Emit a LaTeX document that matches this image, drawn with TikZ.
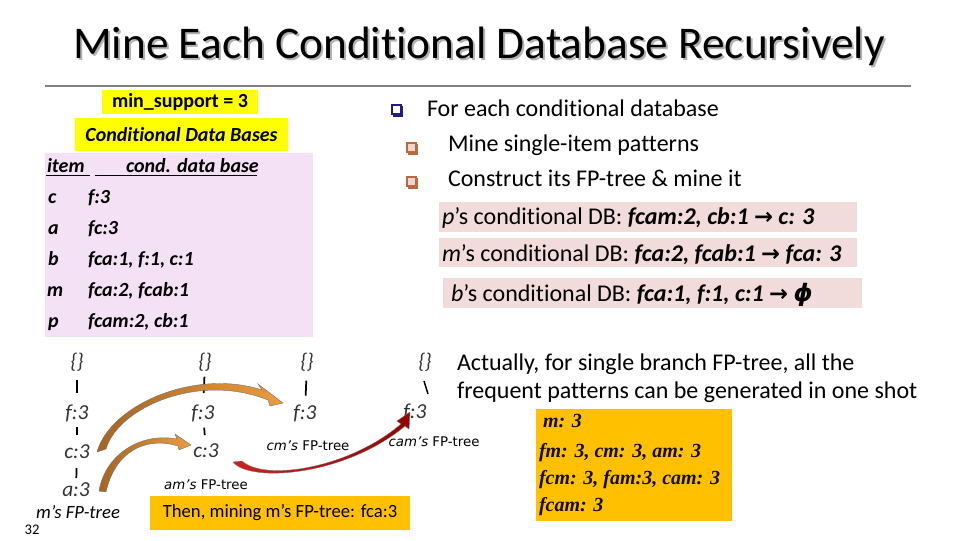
\documentclass[tikz,border=0pt]{standalone}
\usepackage{fontspec}
\setmainfont{Carlito}[Ligatures={NoCommon,NoContextual,NoRare}]
\newfontfamily\dvs{DejaVu Sans}
\newfontfamily\tms{Liberation Serif}
\definecolor{yel}{RGB}{255,255,0}
\definecolor{org}{RGB}{255,192,0}
\definecolor{pinkbox}{RGB}{245,225,245}
\definecolor{stripc}{RGB}{242,220,219}
\definecolor{navyc}{RGB}{30,30,130}
\definecolor{brnc}{RGB}{185,105,65}
\definecolor{brnlight}{RGB}{235,215,205}
\definecolor{arrdark}{RGB}{165,100,35}
\definecolor{arrlight}{RGB}{236,156,62}
\definecolor{reddark}{RGB}{150,0,0}
\definecolor{redlight}{RGB}{215,30,30}
\tikzset{
  txt/.style={anchor=base west, inner sep=0pt, outer sep=0pt},
  cdb/.style={txt, font=\fontsize{15}{18}\selectfont\bfseries\itshape},
  bul/.style={txt, font=\fontsize{18}{22}\selectfont},
  tree/.style={inner sep=0pt, outer sep=0pt, text=black!80, font=\fontsize{16}{18}\selectfont\itshape},
  bar/.style={line width=1.3pt, black},
  ans/.style={txt, font=\fontsize{15}{18}\selectfont\tms\bfseries\itshape, text=black!90!brown},
  blockarrow/.style={draw=black!55, line width=0.3pt},
}
\newcommand{\arr}{{\dvs\bfseries\fontsize{17}{18}\selectfont →}}
\begin{document}
\begin{tikzpicture}[x=0.75pt,y=-0.75pt]
\useasboundingbox (0,0) rectangle (960,540);

% title
\node[anchor=base, text=black!30, font=\fontsize{34}{40}\selectfont] (titleshadow) at (481,60) {Mine Each Conditional Database Recursively};
\node[anchor=base, font=\fontsize{34}{40}\selectfont] (title) at (479,58) {Mine Each Conditional Database Recursively};
\coordinate (ruleL) at (45,86);
\coordinate (ruleR) at (911,86);
\draw[gray, line width=0.8pt] (ruleL) -- (ruleR);

% left: yellow labels and pink table
\node[fill=yel, minimum width=117pt, minimum height=18pt, inner sep=0pt, font=\fontsize{15}{18}\selectfont\bfseries] (minsup) at (180,102) {min\_support = 3};
\node[fill=yel, minimum width=159.75pt, minimum height=24.75pt, inner sep=0pt, font=\fontsize{15}{18}\selectfont\bfseries\itshape] (cdbtitle) at (181.5,134.5) {Conditional Data Bases};
\fill[pinkbox] (45,153) rectangle (313,337);

\node[cdb] (hitem) at (47,172) {item};
\node[cdb] (hcond) at (126,172) {cond. data base};
\draw[line width=0.8pt] (46,175.5) -- (90,175.5);
\draw[line width=0.8pt] (95,175.5) -- (257,175.5);

\node[cdb] (ic) at (48,203) {c};
\node[cdb] (dc) at (88,203) {f:3};
\node[cdb] (ia) at (48,234) {a};
\node[cdb] (da) at (88,234) {fc:3};
\node[cdb] (ib) at (48,265) {b};
\node[cdb] (db) at (88,265) {fca:1, f:1, c:1};
\node[cdb] (im) at (47,296) {m};
\node[cdb] (dm) at (88,296) {fca:2, fcab:1};
\node[cdb] (ip) at (48,327) {p};
\node[cdb] (dp) at (88,327) {fcam:2, cb:1};

% right bullets
\draw[navyc, line width=1pt] (392,105) rectangle (401,114);
\fill[navyc] (392.5,113.5) rectangle (403,116.5);
\fill[navyc] (400.5,105.5) rectangle (403,116.5);
\node[bul] (b1) at (427,116) {For each conditional database};
\foreach \yy/\nm in {143/s1,177/s2}{
  \fill[brnlight] (407,\yy) rectangle (416,\yy+9);
  \draw[brnc, line width=1pt] (407,\yy) rectangle (416,\yy+9);
  \fill[brnc] (407.5,\yy+8.5) rectangle (418,\yy+11.5);
  \fill[brnc] (415.5,\yy+0.5) rectangle (418,\yy+11.5);
}
\node[bul] (b2) at (448,151) {Mine single-item patterns};
\node[bul] (b3) at (448,186) {Construct its FP-tree \& mine it};

\fill[stripc] (439,202) rectangle (857,232);
\fill[stripc] (439,238) rectangle (857,267);
\fill[stripc] (443,278) rectangle (862,308);
\node[bul] (pdb) at (442,224) {\textit{p}’s conditional DB: \textbf{\textit{fcam:2, cb:1}} \arr{} \textbf{\textit{c: 3}}};
\node[bul] (mdb) at (442,261) {\textit{m}’s conditional DB: \textbf{\textit{fca:2, fcab:1}} \arr{} \textbf{\textit{fca: 3}}};
\node[bul] (bdb) at (451,301) {\textit{b}’s conditional DB: \textbf{\textit{fca:1, f:1, c:1}} \arr{} {\dvs\bfseries\itshape ϕ}};

% trees
\node[tree] (r1) at (77,362) {\{\}};
\node[tree] (f1) at (77,413) {f:3};
\node[tree] (c1) at (77,452) {c:3};
\node[tree] (a1) at (76,490) {a:3};
\node[tree, text=black, font=\fontsize{14}{16}\selectfont\itshape] (m1) at (78,512) {m’s FP-tree};
\draw[bar, shorten <=13.5pt, shorten >=15pt] (r1.center) -- (f1.center);
\draw[bar, shorten <=10.5pt, shorten >=12.75pt] (f1.center) -- (c1.center);
\draw[bar, shorten <=12pt, shorten >=9pt] (c1.center) -- (a1.center);

\node[tree] (r2) at (205,362) {\{\}};
\node[tree] (f2) at (203,413) {f:3};
\node[tree] (c2) at (206,451) {c:3};
\node[inner sep=0pt, font=\fontsize{10}{12}\selectfont\dvs] (am2) at (206,485) {\textit{am’s} FP-tree};
\draw[bar, shorten <=11pt, shorten >=15pt] (r2.center) -- (f2.center);
\draw[bar, shorten <=11pt, shorten >=12pt] (f2.center) -- (c2.center);

\node[tree] (r3) at (307,362) {\{\}};
\node[tree] (f3) at (305,413) {f:3};
\node[inner sep=0pt, font=\fontsize{10}{12}\selectfont\dvs] (cm3) at (308,446) {\textit{cm’s} FP-tree};
\draw[bar, shorten <=14pt, shorten >=13pt] (r3.center) -- (f3.center);

\node[tree] (r4) at (425,362) {\{\}};
\node[tree] (f4) at (415,412) {f:3};
\node[inner sep=0pt, font=\fontsize{10}{12}\selectfont\dvs] (cam4) at (434,442) {\textit{cam’s} FP-tree};
\coordinate (b4top) at (424,381);
\coordinate (b4bot) at (428,394);
\draw[line width=1.1pt] (b4top) -- (b4bot);

% block arrows
\path[blockarrow, left color=arrdark, right color=arrlight]
  (97,452) .. controls (110,405) and (195,368) .. (262,390)
  -- (258,384) -- (283,403) -- (270,406) -- (268,400)
  .. controls (198,372) and (118,408) .. (106,449) -- cycle;
\path[blockarrow, left color=arrdark, right color=arrlight]
  (99,491) .. controls (105,455) and (140,432) .. (177,439)
  -- (175,434) -- (191,445) -- (179,450) -- (178,446)
  .. controls (145,436) and (115,452) .. (106,492) -- cycle;
\path[blockarrow, left color=redlight, right color=reddark]
  (233,462) .. controls (250,483) and (345,476) .. (405,426)
  -- (409,429) -- (410,412) -- (397,421) -- (401,424)
  .. controls (350,468) and (265,482) .. (242,461) -- cycle;

% right texts
\node[bul] (act1) at (457,370) {Actually, for single branch FP-tree, all the};
\node[bul] (act2) at (457,398) {frequent patterns can be generated in one shot};

\node[fill=org, minimum width=147pt, minimum height=84pt, inner sep=0pt, anchor=north west] (ansbox) at (536,409) {};
\node[ans] (l1) at (543,427) {m: 3};
\node[ans] (l2) at (539,457) {fm: 3, cm: 3, am: 3};
\node[ans] (l3) at (539,484) {fcm: 3, fam:3, cam: 3};
\node[ans] (l4) at (539,511) {fcam: 3};

\node[fill=org, minimum width=195pt, minimum height=25.5pt, inner sep=0pt, font=\fontsize{14}{17}\selectfont] (then) at (280,513) {Then, mining m’s FP-tree: fca:3};

\node[inner sep=0pt, font=\fontsize{11}{13}\selectfont] (pnum) at (32,530) {32};
\end{tikzpicture}
\end{document}
